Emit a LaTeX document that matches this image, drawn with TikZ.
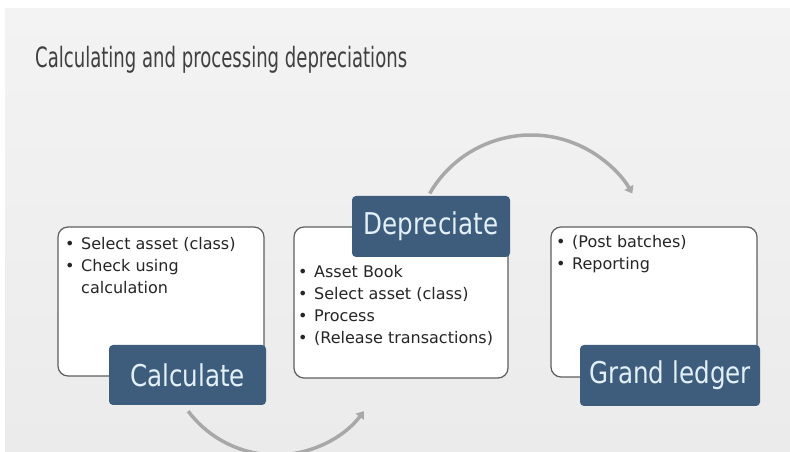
\documentclass[tikz,border=0pt]{standalone}
\usepackage{fontspec}
\setmainfont{DejaVu Sans}
\newfontfamily\titlefont[FakeStretch=0.645]{DejaVu Sans}
\newfontfamily\labelfont[FakeStretch=0.82]{DejaVu Sans}
\newfontfamily\bodyfont[FakeStretch=1.0]{DejaVu Sans}
\usetikzlibrary{arrows.meta}
\definecolor{bgtop}{HTML}{F3F3F3}
\definecolor{bgbot}{HTML}{EBEBEB}
\definecolor{boxborder}{HTML}{5E5E5E}
\definecolor{labblue}{HTML}{3E5C7C}
\definecolor{labtext}{HTML}{E2F0FA}
\definecolor{arcgray}{HTML}{A8A8A8}
\definecolor{textdark}{HTML}{262626}
\definecolor{titlegray}{HTML}{404040}
\newcommand{\bul}{\makebox[16pt][l]{•}}
\tikzset{
  content/.style={draw=boxborder, line width=1.2pt, fill=white, rounded corners=10pt, inner sep=0, rectangle},
  lab/.style={fill=labblue, rounded corners=4pt, text=labtext, font=\labelfont\fontsize{30}{36}\selectfont, inner sep=0, rectangle},
  arcline/.style={draw=arcgray, line width=3.5pt, -{Triangle[width=10pt,length=7pt]}},
  bullets/.style={anchor=north west, inner sep=0, font=\bodyfont\fontsize{16}{22}\selectfont, text=textdark}
}
\begin{document}
\begin{tikzpicture}[x=1pt,y=1pt]
\useasboundingbox (0,0) rectangle (790,452);
\fill[white] (0,0) rectangle (790,452);
\shade[top color=bgtop, bottom color=bgbot] (5,0) rectangle (790,443);

\node[anchor=base west, inner sep=0, text=titlegray, font=\titlefont\fontsize{28}{32}\selectfont] (title) at (35,384) {Calculating and processing depreciations};

% arcs (drawn first, partly hidden under the labels)
\coordinate (c1s) at (188.2,40.8);
\coordinate (c2s) at (429.7,258.5);
\draw[arcline] (c1s) arc[start angle=217, end angle=323, radius=110pt];
\draw[arcline] (c2s) arc[start angle=150, end angle=30, radius=117pt];

% content boxes
\node[content, minimum width=206pt, minimum height=149pt] (b1) at (161,150.5) {};
\node[content, minimum width=214pt, minimum height=151pt] (b2) at (401,149.5) {};
\node[content, minimum width=206pt, minimum height=150pt] (b3) at (654,150) {};

\node[bullets] (t1) at (65,218.4) {\begin{tabular}{@{}l@{}}\bul Select asset (class)\\ \bul Check using\\ \hspace*{16pt}calculation\end{tabular}};
\node[bullets] (t2) at (298,190.4) {\begin{tabular}{@{}l@{}}\bul Asset Book\\ \bul Select asset (class)\\ \bul Process\\ \bul (Release transactions)\end{tabular}};
\node[bullets] (t3) at (556,220.4) {\begin{tabular}{@{}l@{}}\bul (Post batches)\\ \bul Reporting\end{tabular}};

% labels
\node[lab, minimum width=157pt, minimum height=60pt] (calc) at (187.5,77) {Calculate};
\node[lab, minimum width=158pt, minimum height=61pt] (dep) at (431,225.5) {Depreciate};
\node[lab, minimum width=180pt, minimum height=61pt] (gl) at (670,76.5) {Grand ledger};
\end{tikzpicture}
\end{document}
